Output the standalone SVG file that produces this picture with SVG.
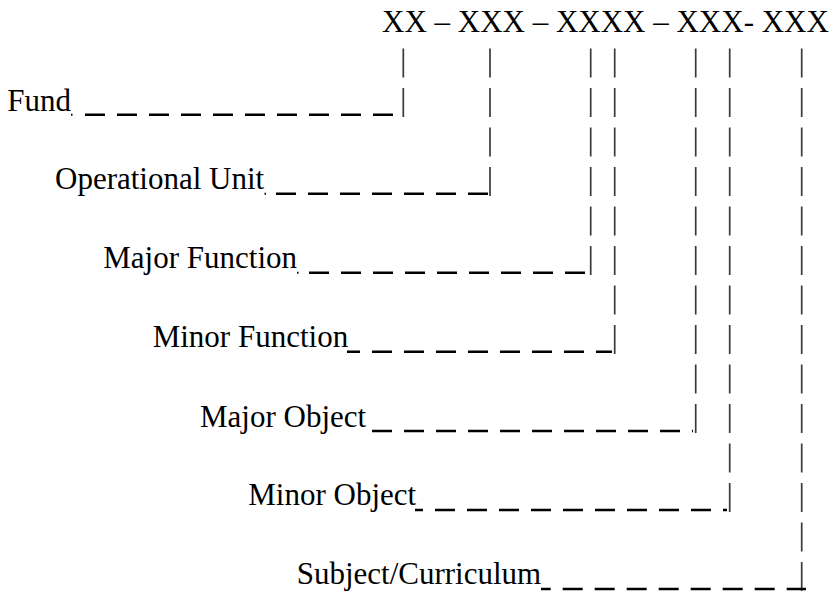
<svg xmlns="http://www.w3.org/2000/svg" width="833" height="592" viewBox="0 0 833 592">
  <style>
    .t { font-family: "Liberation Serif", "Times New Roman", serif; font-size: 31px; fill: #000; }
    .lead { stroke: #000; stroke-width: 2.5; stroke-dasharray: 20 12; fill: none; }
    .dot { stroke: #000; stroke-width: 2; fill: none; }
    .bar { stroke: #3a3a3a; stroke-width: 1.7; stroke-dasharray: 29 10.5; fill: none; }
  </style>
  <rect width="833" height="592" fill="#fff"/>
  <g id="header">
    <text class="t" x="382" y="32">XX – XXX – XXXX – XXX- XXX</text>
  </g>
  <g id="connectors">
    <line class="bar" x1="403.3" y1="48.5" x2="403.3" y2="117"/>
    <line class="bar" x1="490" y1="48.5" x2="490" y2="196"/>
    <line class="bar" x1="590.7" y1="48.5" x2="590.7" y2="275"/>
    <line class="bar" x1="614.7" y1="48.5" x2="614.7" y2="354"/>
    <line class="bar" x1="695.7" y1="48.5" x2="695.7" y2="433"/>
    <line class="bar" x1="729.7" y1="48.5" x2="729.7" y2="512"/>
    <line class="bar" x1="801.7" y1="48.5" x2="801.7" y2="591"/>
  </g>
  <g id="fund">
    <text class="t" x="7.3" y="110.5">Fund</text>
    <line class="dot" x1="71" y1="114.7" x2="72.5" y2="114.7"/>
    <line class="lead" x1="85" y1="114.7" x2="393" y2="114.7"/>
  </g>
  <g id="operational-unit">
    <text class="t" x="55" y="189.3">Operational Unit</text>
    <line class="dot" x1="264.5" y1="193.7" x2="266" y2="193.7"/>
    <line class="lead" x1="276" y1="193.7" x2="488" y2="193.7"/>
  </g>
  <g id="major-function">
    <text class="t" x="103.3" y="268.2">Major Function</text>
    <line class="dot" x1="297" y1="272.7" x2="298.5" y2="272.7"/>
    <line class="lead" x1="309" y1="272.7" x2="585" y2="272.7"/>
  </g>
  <g id="minor-function">
    <text class="t" x="152.7" y="347.3">Minor Function</text>
    <line class="lead" x1="347" y1="351.7" x2="612" y2="351.7" stroke-dashoffset="7"/>
  </g>
  <g id="major-object">
    <text class="t" x="200" y="426.5">Major Object</text>
    <line class="lead" x1="372" y1="431" x2="693" y2="431"/>
  </g>
  <g id="minor-object">
    <text class="t" x="248.3" y="505">Minor Object</text>
    <line class="lead" x1="415" y1="510" x2="727" y2="510" stroke-dashoffset="12"/>
  </g>
  <g id="subject-curriculum">
    <text class="t" x="296.7" y="584">Subject/Curriculum</text>
    <line class="lead" x1="541" y1="589" x2="806" y2="589" stroke-dashoffset="10.3"/>
  </g>
</svg>
